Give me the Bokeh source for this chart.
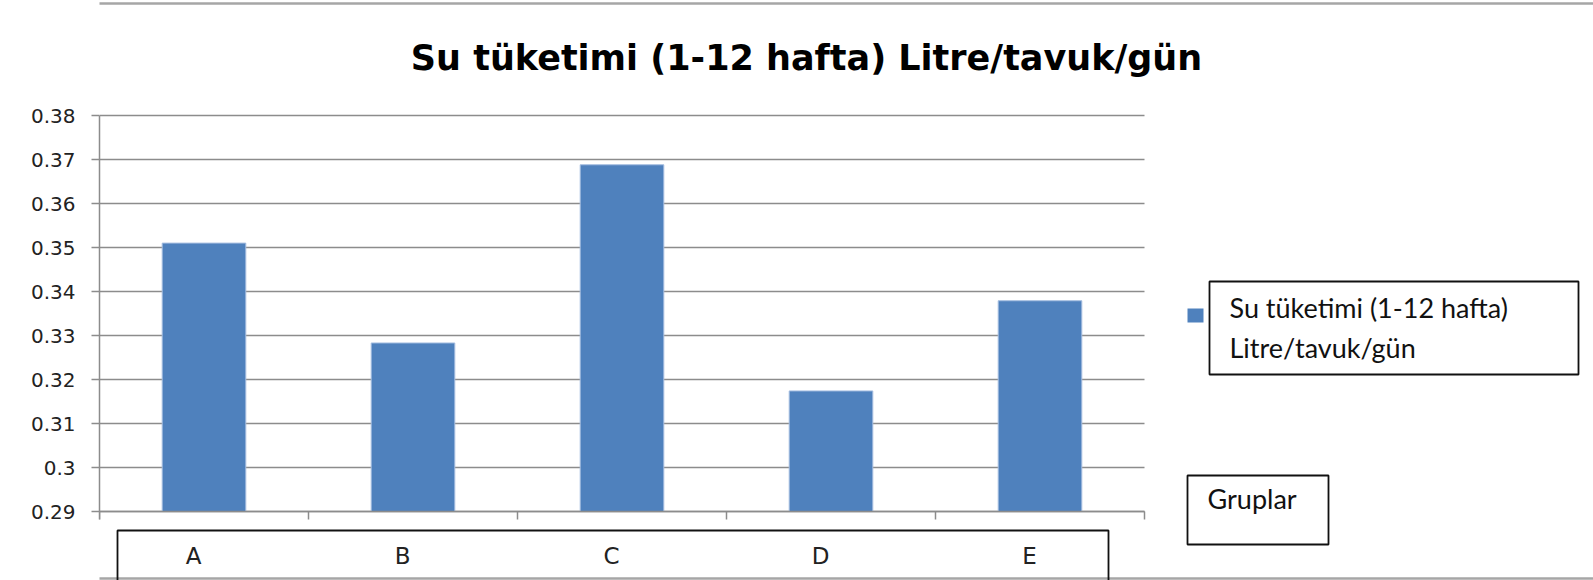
from bokeh.plotting import figure
from bokeh.models import Range1d, FixedTicker, BoxAnnotation, Label
from bokeh.core.properties import value
from bokeh.embed import file_html
from bokeh.resources import INLINE

# ---- data ----
categories = ["A", "B", "C", "D", "E"]
values = [0.351, 0.3283, 0.3688, 0.3174, 0.3379]
y_ticks = [0.29, 0.30, 0.31, 0.32, 0.33, 0.34, 0.35, 0.36, 0.37, 0.38]
y_tick_labels = ["0.29", "0.3", "0.31", "0.32", "0.33", "0.34", "0.35", "0.36", "0.37", "0.38"]
title_text = "Su tüketimi (1-12 hafta) Litre/tavuk/gün"
legend_lines = ["Su tüketimi (1-12 hafta)", "Litre/tavuk/gün"]
x_title = "Gruplar"

BAR = "#4f81bd"
GRID = "#8c8c8c"

W, H = 1593, 580
LEFT = 99                      # width of the y-axis panel
PX_X = 209.0                   # pixels per category
PX_Y = 4400.0                  # pixels per unit of y
Y0_PAGE, Y1_PAGE = 511, 115    # pixel rows of first / last y tick

n = len(categories)
centers = [i + 0.5 for i in range(n)]
label_pos = [c - 0.05 for c in centers]
bounds = list(range(n + 1))
y_lo, y_hi = y_ticks[0], y_ticks[-1]
tick_len = 8 / PX_Y

x_range = Range1d(0, (W - LEFT) / PX_X)
y_range = Range1d(y_lo - (H - Y0_PAGE) / PX_Y, y_hi + Y1_PAGE / PX_Y)

p = figure(x_range=x_range, y_range=y_range, width=W, height=H,
           output_backend="svg", toolbar_location=None, x_axis_location=None,
           min_border_left=LEFT, min_border_right=0, min_border_top=0, min_border_bottom=0)
p.outline_line_color = None
p.background_fill_color = "white"
p.border_fill_color = "white"
p.xgrid.visible = False
p.ygrid.visible = False

# decorations (screen units relative to the plot frame's bottom-left corner)
def box(l, r, t, b, color, width, fill=None):
    return BoxAnnotation(left=l, right=r, top=t, bottom=b,
                         left_units="screen", right_units="screen",
                         top_units="screen", bottom_units="screen",
                         fill_color=fill, fill_alpha=1 if fill else 0,
                         line_color=color, line_alpha=1, line_width=width, level="underlay")

p.add_layout(box(-88, 1510, 577, 2, "#a6a6a6", 2.5))
p.add_layout(box(18, 1009, 50, -20, "#111111", 1.8))
p.add_layout(box(1110, 1479, 299, 206, "#111111", 1.8))
p.add_layout(box(1088, 1104, 272, 258, None, 0, BAR))
p.add_layout(box(1088, 1229, 105, 36, "#111111", 1.8))

# gridlines (only over the category area)
p.segment(x0=[bounds[0]] * len(y_ticks), x1=[bounds[-1]] * len(y_ticks),
          y0=y_ticks, y1=y_ticks, line_color=GRID, line_width=1.5)

# bars
p.vbar(x=centers, top=values, bottom=y_lo, width=0.4,
       fill_color=BAR, line_color="#a4bde0", line_width=1)

# category axis: baseline, boundary ticks, labels
p.segment(x0=[bounds[0]], x1=[bounds[-1]], y0=[y_lo], y1=[y_lo], line_color=GRID, line_width=1.5)
p.segment(x0=bounds, x1=bounds, y0=[y_lo] * len(bounds), y1=[y_lo - tick_len] * len(bounds),
          line_color=GRID, line_width=1.5)
p.text(x=label_pos, y=[y_lo] * n, text=categories, y_offset=44,
       text_font=value("DejaVu Sans"), text_font_size="23px", text_color="#222222",
       text_align="center", text_baseline="alphabetic")

# y axis
ya = p.yaxis[0]
ya.ticker = FixedTicker(ticks=y_ticks)
ya.bounds = (y_lo - tick_len, y_hi)
ya.major_label_overrides = {v: s for v, s in zip(y_ticks, y_tick_labels)}
ya.axis_line_color = GRID
ya.axis_line_width = 1.5
ya.major_tick_line_color = GRID
ya.major_tick_line_width = 1.5
ya.major_tick_out = 8
ya.major_tick_in = 0
ya.minor_tick_line_color = None
ya.major_label_text_font = "DejaVu Sans"
ya.major_label_text_font_size = "20px"
ya.major_label_text_color = "#222222"
ya.major_label_standoff = 16

p.add_layout(Label(x=707, y=523, x_units="screen", y_units="screen", text=title_text,
                   text_font="DejaVu Sans", text_font_style="bold", text_font_size="35px",
                   text_align="center", text_baseline="alphabetic", text_color="black"))
for i, line in enumerate(legend_lines):
    p.add_layout(Label(x=1130, y=273 - 40 * i, x_units="screen", y_units="screen", text=line,
                       text_font="Lato", text_font_size="27px",
                       text_baseline="alphabetic", text_color="#111111"))
p.add_layout(Label(x=1108, y=82, x_units="screen", y_units="screen", text=x_title,
                   text_font="Lato", text_font_size="27px",
                   text_baseline="alphabetic", text_color="#111111"))

open("out.html", "w").write(file_html(p, INLINE))
